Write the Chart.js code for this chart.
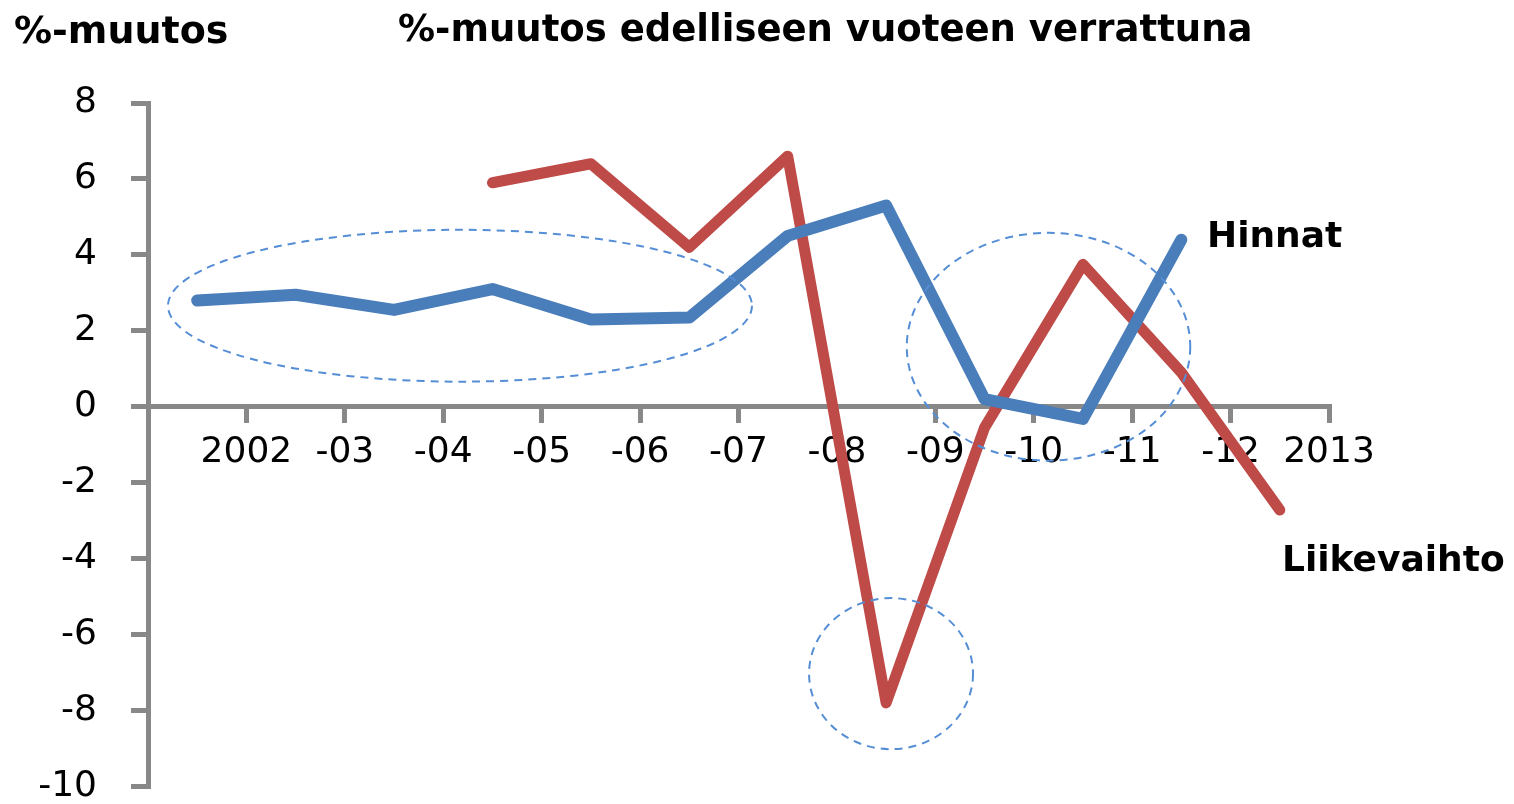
<!DOCTYPE html>
<html><head><meta charset="utf-8">
<script src="https://cdn.jsdelivr.net/npm/chart.js@4/dist/chart.umd.min.js"></script>
<style>html,body{margin:0;padding:0;background:#fff;overflow:hidden;} #wrap{width:1514px;height:804px;position:relative;overflow:hidden;} canvas{display:block;}</style>
</head><body><div id="wrap"><canvas id="c" width="1514" height="842"></canvas></div>
<script>
const tickLabels = ['2002','-03','-04','-05','-06','-07','-08','-09','-10','-11','-12','2013'];
const hinnat = [2.8, 2.95, 2.55, 3.1, 2.3, 2.35, 4.5, 5.3, 0.2, -0.32, 4.4];
const liikevaihto = [null, null, null, 5.9, 6.4, 4.2, 6.6, -7.8, -0.55, 3.75, 0.9, -2.72];
const yTicks = [-10, -8, -6, -4, -2, 0, 2, 4, 6, 8];
const chartTitle = '%-muutos edelliseen vuoteen verrattuna';
const yTitle = '%-muutos';
const seriesNames = ['Hinnat', 'Liikevaihto'];

const toPoints = arr => arr.map((v, i) => v === null ? null : {x: i + 0.5, y: v}).filter(p => p);
const FONT = '"DejaVu Sans", Verdana, sans-serif';
const AXIS = '#888888';

const decor = {
  id: 'decor',
  afterDraw(chart) {
    const ctx = chart.ctx, xs = chart.scales.x, ys = chart.scales.y;
    const ellipses = [
      {cx: 3.17, cy: 2.66, rx: 2.967, ry: 2.0},
      {cx: 9.15, cy: 1.58, rx: 1.44, ry: 3.0},
      {cx: 7.55, cy: -7.03, rx: 0.833, ry: 1.99}
    ];
    const pxX = xs.getPixelForValue(1) - xs.getPixelForValue(0);
    const pxY = ys.getPixelForValue(0) - ys.getPixelForValue(1);
    ctx.save();
    ctx.strokeStyle = '#558ed5';
    ctx.lineWidth = 2;
    ctx.setLineDash([8, 6]);
    ellipses.forEach(e => {
      ctx.beginPath();
      ctx.ellipse(xs.getPixelForValue(e.cx), ys.getPixelForValue(e.cy), e.rx * pxX, e.ry * pxY, 0, 0, Math.PI * 2);
      ctx.stroke();
    });
    ctx.setLineDash([]);
    ctx.fillStyle = '#000';
    ctx.textBaseline = 'alphabetic';
    ctx.textAlign = 'left';
    ctx.font = 'bold 37px ' + FONT;
    ctx.fillText(chartTitle, 398, 41);
    ctx.font = 'bold 38px ' + FONT;
    ctx.fillText(yTitle, 14, 43);
    ctx.font = 'bold 36px ' + FONT;
    ctx.fillText(seriesNames[0], 1207, 247);
    ctx.fillText(seriesNames[1], 1282, 571);
    ctx.restore();
  }
};

new Chart(document.getElementById('c'), {
  type: 'line',
  data: {
    datasets: [
      {label: seriesNames[0], data: toPoints(hinnat), borderColor: '#4a7ebb', borderWidth: 12, pointRadius: 0, borderCapStyle: 'round', borderJoinStyle: 'round', tension: 0, fill: false},
      {label: seriesNames[1], data: toPoints(liikevaihto), borderColor: '#be4b48', borderWidth: 11, pointRadius: 0, borderCapStyle: 'round', borderJoinStyle: 'round', tension: 0, fill: false}
    ]
  },
  options: {
    responsive: false,
    animation: false,
    devicePixelRatio: 1,
    layout: {padding: {left: 0, right: 185, top: 103, bottom: 0}},
    plugins: {legend: {display: false}, tooltip: {enabled: false}, title: {display: false}},
    scales: {
      x: {
        type: 'linear', position: {y: 0}, min: 0, max: 12,
        grid: {drawOnChartArea: false, drawTicks: true, tickLength: 14, lineWidth: 5, color: AXIS},
        border: {display: true, width: 5, color: AXIS},
        ticks: {stepSize: 1, autoSkip: false, maxRotation: 0, padding: 10, color: '#000', font: {family: FONT, size: 36},
          callback: v => (v >= 1 && v <= tickLabels.length) ? tickLabels[v - 1] : ''}
      },
      y: {
        type: 'linear', min: yTicks[0], max: yTicks[yTicks.length - 1],
        afterFit: s => { s.width = 148; },
        afterBuildTicks: s => { s.ticks = yTicks.map(v => ({value: v})); },
        grid: {drawOnChartArea: false, drawTicks: true, tickLength: 17, lineWidth: 5, color: AXIS},
        border: {display: true, width: 5, color: AXIS},
        ticks: {padding: 34, color: '#000', font: {family: FONT, size: 36}}
      }
    }
  },
  plugins: [decor]
});
</script></body></html>
